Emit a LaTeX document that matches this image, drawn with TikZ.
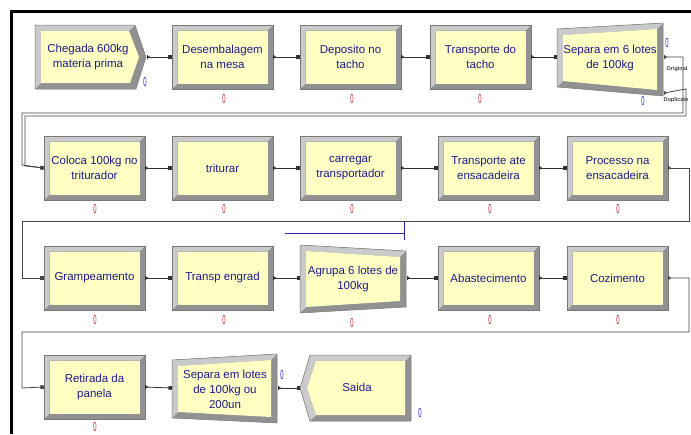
\documentclass[tikz,border=0pt]{standalone}
\usepackage{fontspec}
\setmainfont{Liberation Sans}
\usetikzlibrary{arrows.meta}
\definecolor{ylw}{RGB}{255,255,196}
\definecolor{bvlt}{RGB}{202,202,202}
\definecolor{bvdk}{RGB}{145,145,145}
\definecolor{bvln}{RGB}{120,120,120}
\definecolor{txtblue}{RGB}{28,28,140}
\definecolor{cntred}{RGB}{190,40,40}
\definecolor{cntblue}{RGB}{40,40,200}
\definecolor{wire}{RGB}{50,50,50}
\definecolor{loopwire}{RGB}{70,70,70}
\definecolor{annblue}{RGB}{40,40,170}
\tikzset{
 lbl/.style={text=txtblue, font=\fontsize{11.5}{15}\selectfont, align=center, inner sep=0pt},
 procbox/.style={lbl, minimum width=101pt, minimum height=64pt},
 cnt/.style={inner sep=0pt, font=\fontsize{13}{13}\selectfont},
 conn/.style={draw=wire, line width=0.8pt, {Triangle[length=3pt,width=4pt,reversed]}-{Square[length=3.5pt,width=3.5pt]}},
 loopconn/.style={conn, draw=loopwire},
 tag/.style={inner sep=0pt, font=\fontsize{5.5}{6}\selectfont\bfseries, text=black!75},
}
\newcommand{\procbox}[4]{%
 \fill[bvdk] (#2,#3) rectangle ++(101,64);
 \fill[bvlt] (#2,#3) -- ++(101,0) -- ++(-5.5,5.5) -- ++(-90,0) -- ++(0,53) -- ++(-5.5,5.5) -- cycle;
 \fill[ylw] (#2+5.5,#3+5.5) rectangle ++(90,53);
 \draw[bvln, line width=0.5pt] (#2,#3) rectangle ++(101,64);
 \node[procbox] (#1) at (#2+50.5,#3+32) {#4};
}
\newcommand{\quadbox}[8]{%
 \fill[bvdk] (#1,#2) -- (#3,#4) -- (#5,#6) -- (#7,#8) -- cycle;
 \fill[bvlt] (#1,#2) -- (#3,#4) -- (#3-6,#4+6) -- (#1+6,#2+6) -- (#7+6,#8-6) -- (#7,#8) -- cycle;
 \fill[ylw] (#1+6,#2+6) -- (#3-6,#4+6) -- (#5-6,#6-6) -- (#7+6,#8-6) -- cycle;
 \draw[bvln, line width=0.5pt] (#1,#2) -- (#3,#4) -- (#5,#6) -- (#7,#8) -- cycle;
}
\newcommand{\zcnt}[4]{\node[cnt, text=#2] (#1) at (#3,#4) {\scalebox{0.45}[1]{0}};}
\begin{document}
\begin{tikzpicture}[x=1pt,y=-1pt]
\useasboundingbox (0,0) rectangle (691,434);
\fill[white] (0,0) rectangle (691,434);
% frame
\draw[line width=3pt] (11,434) -- (11,11.5) -- (691,11.5);

% ---------- row 1 ----------
% Create: Chegada
\fill[bvdk] (35,25) -- (135,25) -- (146,57) -- (136,89) -- (35,89) -- cycle;
\fill[bvlt] (35,25) -- (135,25) -- (129,31) -- (41,31) -- (41,83) -- (35,89) -- cycle;
\fill[ylw] (41,31) -- (129,31) -- (139,57) -- (130,83) -- (41,83) -- cycle;
\draw[bvln, line width=0.5pt] (35,25) -- (135,25) -- (146,57) -- (136,89) -- (35,89) -- cycle;
\node[lbl] (chegada) at (88,57) {Chegada 600kg\\materia prima};
\coordinate (chegada-out) at (147,57);

\procbox{desem}{172}{25}{Desembalagem\\na mesa}
\procbox{depos}{300}{25}{Deposito no\\tacho}
\procbox{transp1}{430}{25}{Transporte do\\tacho}

% Separate 1
\quadbox{557}{29}{663}{23}{663}{96}{557}{87}
\node[lbl] (sep1) at (610,58) {Separa em 6 lotes\\de 100kg};
\coordinate (sep1-in) at (557,57);
\coordinate (sep1-orig) at (664,57);
\coordinate (sep1-dup) at (664,93);
\node[tag] (orig) at (677,69) {Original};
\node[tag] (dup) at (676,100) {Duplicate};

\draw[conn] (chegada-out) -- (desem.west);
\draw[conn] (desem.east) -- (depos.west);
\draw[conn] (depos.east) -- (transp1.west);
\draw[conn] (transp1.east) -- (sep1-in);

% ---------- row 2 ----------
\procbox{coloca}{44}{136}{Coloca 100kg no\\triturador}
\procbox{trit}{172}{136}{triturar}
\procbox{carreg}{300}{136}{carregar\\transportador}
\procbox{transp2}{438}{136}{Transporte ate\\ensacadeira}
\procbox{procens}{567}{136}{Processo na\\ensacadeira}

\draw[loopconn] (sep1-orig) -- (683,57) -- (683,113) -- (22,113) -- (22,165) -- (coloca.west);
\draw[loopconn] (sep1-dup) -- (686,89) -- (686,116) -- (25,116) -- (25,166) -- (coloca.west);

\draw[conn] (coloca.east) -- (trit.west);
\draw[conn] (trit.east) -- (carreg.west);
\draw[conn] (carreg.east) -- (transp2.west);
\draw[conn] (transp2.east) -- (procens.west);

% ---------- row 3 ----------
\procbox{gramp}{44}{246}{Grampeamento}
\procbox{engrad}{172}{246}{Transp engrad}
\quadbox{300}{245}{406}{251}{406}{307}{300}{313}
\node[lbl] (agrupa) at (353,279) {Agrupa 6 lotes de\\100kg};
\coordinate (agrupa-in) at (300,278);
\coordinate (agrupa-out) at (407,278);
\procbox{abast}{438}{246}{Abastecimento}
\procbox{cozim}{567}{246}{Cozimento}

\draw[loopconn] (procens.east) -- (689,168) -- (689,221) -- (22,221) -- (22,278) -- (gramp.west);
\draw[conn] (gramp.east) -- (engrad.west);
\draw[conn] (engrad.east) -- (agrupa-in);
\draw[conn] (agrupa-out) -- (abast.west);
\draw[conn] (abast.east) -- (cozim.west);

% blue annotation line
\coordinate (bl-a) at (285,233);
\coordinate (bl-b) at (404,233);
\coordinate (bl-t) at (404,222);
\coordinate (bl-u) at (404,240);
\draw[annblue, line width=0.8pt] (bl-a) -- (bl-b);
\draw[annblue, line width=0.8pt] (bl-t) -- (bl-u);

% ---------- row 4 ----------
\procbox{retir}{44}{355}{Retirada da\\panela}
\quadbox{172}{360}{277}{354}{277}{423}{172}{418}
\node[lbl] (sep2) at (225,389) {Separa em lotes\\de 100kg ou\\200un};
\coordinate (sep2-in) at (172,388);
\coordinate (sep2-out) at (278,388);

% Dispose: Saida
\fill[bvdk] (300,388) -- (310,355) -- (411,355) -- (411,421) -- (310,421) -- cycle;
\fill[bvlt] (300,388) -- (310,355) -- (411,355) -- (405,361) -- (316,361) -- (307,388) -- (316,415) -- (310,421) -- cycle;
\fill[ylw] (307,388) -- (316,361) -- (405,361) -- (405,415) -- (316,415) -- cycle;
\draw[bvln, line width=0.5pt] (300,388) -- (310,355) -- (411,355) -- (411,421) -- (310,421) -- cycle;
\node[lbl] (saida) at (357,387) {Saida};
\coordinate (saida-in) at (300,388);

\draw[loopconn] (cozim.east) -- (689,278) -- (689,332) -- (22,332) -- (22,388) -- (retir.west);
\draw[conn] (retir.east) -- (sep2-in);
\draw[conn] (sep2-out) -- (saida-in);

% ---------- counters ----------
\zcnt{k1}{cntblue}{145}{82}
\zcnt{k2}{cntred}{224}{99}
\zcnt{k3}{cntred}{352}{99}
\zcnt{k4}{cntred}{480}{99}
\zcnt{k5}{cntblue}{667}{43}
\zcnt{k6}{cntblue}{643}{101}
\zcnt{k7}{cntred}{95}{209}
\zcnt{k8}{cntred}{224}{209}
\zcnt{k9}{cntred}{352}{209}
\zcnt{k10}{cntred}{490}{209}
\zcnt{k11}{cntred}{618}{209}
\zcnt{k12}{cntred}{95}{320}
\zcnt{k13}{cntred}{224}{320}
\zcnt{k14}{cntred}{352}{323}
\zcnt{k15}{cntred}{490}{320}
\zcnt{k16}{cntred}{618}{320}
\zcnt{k17}{cntred}{95}{427}
\zcnt{k18}{cntblue}{282}{375}
\zcnt{k19}{cntblue}{420}{413}
\end{tikzpicture}
\end{document}
